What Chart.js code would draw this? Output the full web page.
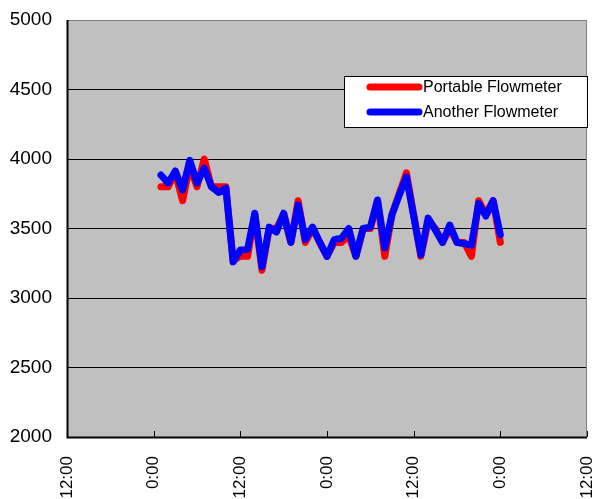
<!DOCTYPE html>
<html>
<head>
<meta charset="utf-8">
<script src="https://cdn.jsdelivr.net/npm/chart.js@4"></script>
<style>
html,body{margin:0;padding:0;background:#fff;}
canvas{display:block;}
</style>
</head>
<body>
<canvas id="c" width="596" height="499"></canvas>
<script>
// Hours since 12:00 on the first day shown on the axis
const hours = [13,14,15,16,17,18,19,20,21,22,23,24,25,26,27,28,29,30,31,32,33,34,35,36,
               37,38,39,40,41,42,43,44,45,46,47,48,49,50,51,52,53,54,55,56,57,58,59,60];
const portable = [3800,3800,3900,3700,3950,3800,4000,3800,3800,3800,3270,3300,3300,3600,3200,3500,3500,3600,3400,3700,3400,3500,3400,3300,
                  3400,3400,3450,3300,3500,3500,3700,3300,3600,3750,3900,3600,3300,3550,3500,3400,3500,3400,3400,3300,3700,3600,3700,3400];
const another  = [3885,3827,3914,3777,3990,3827,3935,3800,3760,3790,3260,3345,3350,3610,3225,3510,3475,3610,3400,3670,3420,3510,3400,3300,
                  3420,3430,3500,3300,3500,3510,3705,3360,3600,3740,3870,3590,3310,3575,3490,3400,3525,3400,3390,3380,3680,3590,3700,3455];
const seriesNames = ["Portable Flowmeter","Another Flowmeter"];
const yTicks = [2000,2500,3000,3500,4000,4500,5000];
const xTickLabels = {0:"12:00",12:"0:00",24:"12:00",36:"0:00",48:"12:00",60:"0:00",72:"12:00"};

const FONT = "'Liberation Sans', Arial, sans-serif";

const bgPlugin = {
  id:'plotbg',
  beforeDraw(chart){
    const {ctx, chartArea:a} = chart;
    ctx.save();
    ctx.fillStyle = '#C0C0C0';
    ctx.fillRect(a.left, a.top, a.right-a.left, a.bottom-a.top);
    ctx.restore();
  },
  afterDatasetsDraw(chart){
    const {ctx, chartArea:a} = chart;
    ctx.save();
    // frame
    ctx.strokeStyle = '#808080';
    ctx.lineWidth = 1;
    ctx.strokeRect(a.left+0.5, a.top+0.5, a.right-a.left-1, a.bottom-a.top);
    // axes
    ctx.strokeStyle = '#000';
    ctx.lineWidth = 2;
    ctx.beginPath();
    ctx.moveTo(a.left+0.5, a.top);
    ctx.lineTo(a.left+0.5, a.bottom+0.5);
    ctx.lineTo(a.right, a.bottom+0.5);
    ctx.stroke();
    // inward x tick marks
    const xs = chart.scales.x;
    ctx.lineWidth = 1;
    xs.ticks.forEach(t=>{
      const px = Math.round(xs.getPixelForValue(t.value))+0.5;
      ctx.beginPath();
      ctx.moveTo(px, a.bottom);
      ctx.lineTo(px, a.bottom-6);
      ctx.stroke();
    });
    // legend
    const lx = 344.5, ly = 76.5, lw = 243, lh = 51;
    ctx.fillStyle = '#fff';
    ctx.fillRect(lx, ly, lw, lh);
    ctx.strokeStyle = '#000';
    ctx.lineWidth = 1;
    ctx.strokeRect(lx, ly, lw, lh);
    ctx.font = "16px " + FONT;
    ctx.textBaseline = 'middle';
    ctx.textAlign = 'left';
    seriesNames.forEach((name,i)=>{
      const ds = chart.data.datasets.find(d=>d.label===name);
      const y = 87 + i*25;
      ctx.strokeStyle = ds.borderColor;
      ctx.lineWidth = 7;
      ctx.lineCap = 'round';
      ctx.beginPath();
      ctx.moveTo(370, y);
      ctx.lineTo(419, y);
      ctx.stroke();
      ctx.fillStyle = '#000';
      ctx.fillText(name, 423, y+1);
    });
    ctx.restore();
  }
};

new Chart(document.getElementById('c'), {
  type:'line',
  data:{
    datasets:[
      {label:seriesNames[0], order:1, data:hours.map((h,i)=>({x:h,y:portable[i]})), borderColor:'#FF0000', backgroundColor:'#FF0000',
       borderWidth:7, pointRadius:0, tension:0, borderJoinStyle:'round', borderCapStyle:'round', fill:false},
      {label:seriesNames[1], order:0, data:hours.map((h,i)=>({x:h,y:another[i]})), borderColor:'#0000FF', backgroundColor:'#0000FF',
       borderWidth:7, pointRadius:0, tension:0, borderJoinStyle:'round', borderCapStyle:'round', fill:false}
    ]
  },
  options:{
    responsive:false,
    animation:false,
    devicePixelRatio:1,
    layout:{padding:{top:20,right:9,left:0,bottom:0}},
    plugins:{legend:{display:false}, tooltip:{enabled:false}},
    scales:{
      x:{
        type:'linear', min:0, max:72,
        afterBuildTicks(s){ s.ticks = Object.keys(xTickLabels).map(v=>({value:+v})); },
        afterFit(s){ s.height = 62; s.paddingLeft = 0; s.paddingRight = 0; },
        grid:{display:false, drawTicks:false},
        border:{display:false},
        ticks:{
          autoSkip:false, maxRotation:90, minRotation:90, padding:19,
          color:'#000', font:{family:FONT, size:17},
          callback:(v)=>xTickLabels[v]
        }
      },
      y:{
        min:2000, max:5000,
        afterBuildTicks(s){ s.ticks = yTicks.map(v=>({value:v})); },
        afterFit(s){ s.width = 67; s.paddingTop = 0; s.paddingBottom = 0; },
        grid:{color:'#000', lineWidth:1, drawTicks:false},
        border:{display:false},
        ticks:{padding:15, color:'#000', font:{family:FONT, size:19}, callback:(v)=>String(v)}
      }
    }
  },
  plugins:[bgPlugin]
});
</script>
</body>
</html>
